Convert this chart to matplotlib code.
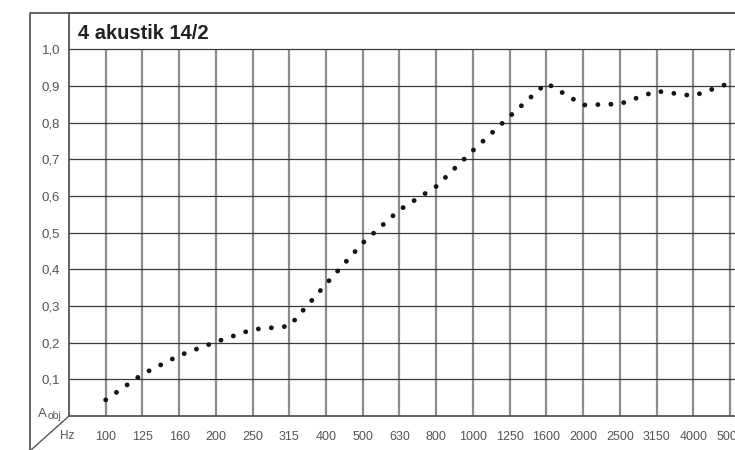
import matplotlib
matplotlib.use("Agg")
import matplotlib.pyplot as plt
from matplotlib.lines import Line2D

# third-octave bands and sound absorption (Aobj) of the panel
bands = ["100", "125", "160", "200", "250", "315", "400", "500", "630",
         "800", "1000", "1250", "1600", "2000", "2500", "3150", "4000", "5000"]
alpha = [0.044, 0.114, 0.165, 0.202, 0.236, 0.245, 0.360, 0.472, 0.562,
         0.626, 0.724, 0.817, 0.908, 0.848, 0.851, 0.886, 0.873, 0.908]
y_ticks = [0.1, 0.2, 0.3, 0.4, 0.5, 0.6, 0.7, 0.8, 0.9, 1.0]
y_labels = ["0,1", "0,2", "0,3", "0,4", "0,5", "0,6", "0,7", "0,8", "0,9", "1,0"]
title = "4 akustik 14/2"

W, H = 735, 450
plt.rcParams["font.family"] = ["Liberation Sans", "DejaVu Sans"]

fig = plt.figure(figsize=(W / 100, H / 100), dpi=100)


def fx(px):
    return px / W


def fy(py):
    return 1 - py / H


# grid area: left edge at x=69, zero line at y=416, frame top at y=13
band_px = 36.7
ax = fig.add_axes([fx(69), fy(416), 1 - fx(69), fy(13) - fy(416)])
ax.set_xlim(-1, len(bands) - 1 + (W - 730) / band_px)
ax.set_ylim(0, (416 - 13) / 366.7)

frame_col = "#555555"
for side in ("left", "top", "bottom"):
    ax.spines[side].set_color(frame_col)
    ax.spines[side].set_linewidth(1.3)
ax.spines["right"].set_visible(False)

xs = list(range(len(bands)))
ax.vlines(xs, 0, 1.0, color="#8c8c8c", lw=1.6, zorder=1)
for v in y_ticks:
    ax.axhline(v, color="#3a3a3a", lw=0.9, zorder=1)

# dotted curve: zero-length dashes with round caps
ax.plot(xs, alpha, color="#151515", lw=3.5, linestyle=(0, (0.01, 2.675)),
        dash_capstyle="round", solid_capstyle="round", zorder=3)

ax.set_xticks(xs)
ax.set_xticklabels(bands)
ax.set_yticks(y_ticks)
ax.set_yticklabels(y_labels)
ax.tick_params(axis="x", length=0, pad=11, labelsize=9, labelcolor="#555555")
ax.tick_params(axis="y", length=0, pad=6.5, labelsize=9.5, labelcolor="#555555")

fig.text(fx(78), fy(39), title, fontsize=14.5, fontweight="bold",
         color="#222222", va="baseline")

# outer frame, diagonal corner and axis captions
fig.add_artist(Line2D([fx(30), fx(30), 1.0], [0, fy(13), fy(13)],
                      transform=fig.transFigure, color=frame_col, lw=1.3))
fig.add_artist(Line2D([fx(69), fx(31)], [fy(416), fy(450)],
                      transform=fig.transFigure, color=frame_col, lw=1.0))
fig.text(fx(38), fy(417), "A", fontsize=9.5, color="#555555", va="baseline")
fig.text(fx(47.5), fy(419), "obj", fontsize=7.5, color="#555555", va="baseline")
fig.text(fx(67), fy(436), "Hz", fontsize=8.5, color="#555555", ha="center", va="center")

fig.savefig("out.png", dpi=100)
